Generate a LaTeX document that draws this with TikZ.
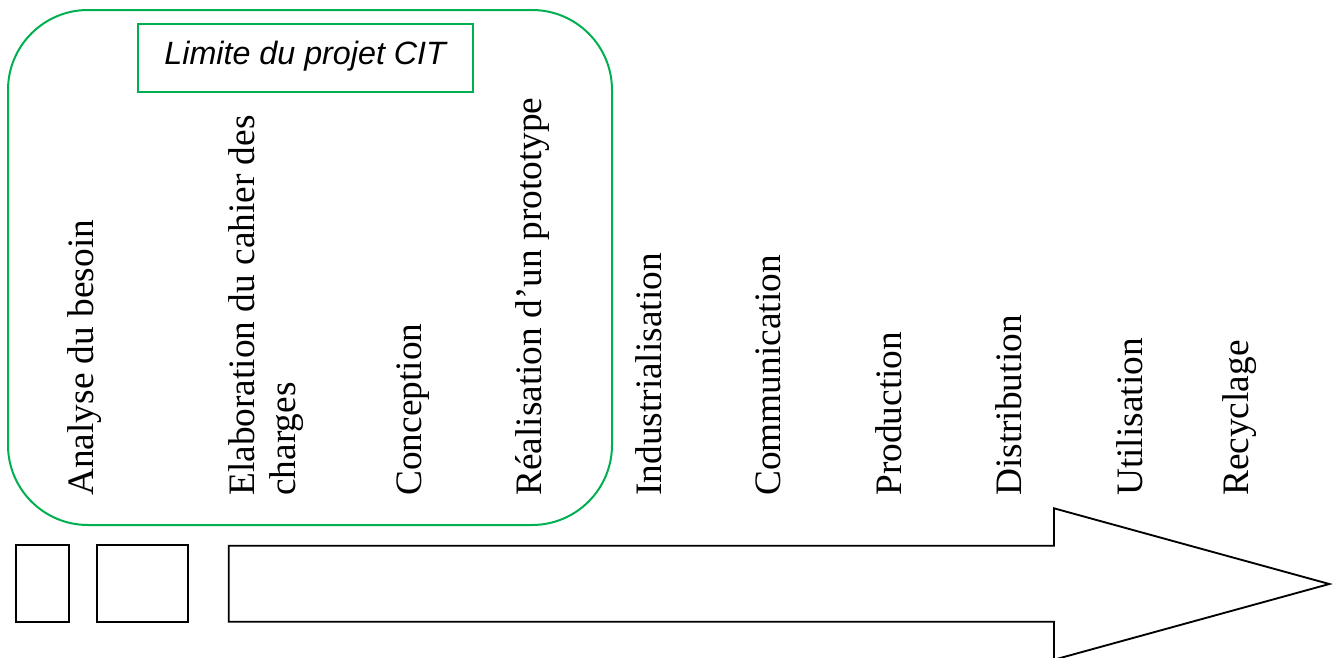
\documentclass[tikz,border=0pt]{standalone}
\usepackage{fontspec}
\setmainfont{Liberation Serif}
\newfontfamily\arialfont{Liberation Sans}
\definecolor{wordgreen}{RGB}{0,176,80}
\begin{document}
\begin{tikzpicture}[x=0.75pt,y=-0.75pt,
  phase/.style={rotate=90,anchor=base west,inner sep=0pt,font=\fontsize{28}{30.75}\selectfont,align=left},
  greenline/.style={draw=wordgreen,line width=1.5pt},
  blackline/.style={draw=black,line width=1.4pt}]
\useasboundingbox (0,0) rectangle (1338,657);
% project limit
\draw[greenline,rounded corners=60pt] (8,10) rectangle (612,525);
\node[greenline,minimum width=251.25pt,minimum height=51pt,inner sep=0pt,
  font=\arialfont\itshape\fontsize{24.2}{28}\selectfont,text height=16.9pt,text depth=6.9pt]
  (limit) at (305.2,58.3) {Limite du projet CIT};
% phases
\node[phase] (p1) at (93,496) {Analyse du besoin};
\node[phase] (p2) at (295,496) {Elaboration du cahier des\\charges};
\node[phase] (p3) at (421.7,496) {Conception};
\node[phase] (p4) at (541.7,496) {Réalisation d’un prototype};
\node[phase] (p5) at (661.7,496) {Industrialisation};
\node[phase] (p6) at (780.7,496) {Communication};
\node[phase] (p7) at (901.7,496) {Production};
\node[phase] (p8) at (1021.7,496) {Distribution};
\node[phase] (p9) at (1142.7,496) {Utilisation};
\node[phase] (p10) at (1248.3,496) {Recyclage};
% boxes
\draw[blackline] (15.7,545) rectangle (69.3,621.7);
\draw[blackline] (96.7,545) rectangle (188.3,621.7);
% big arrow
\draw[blackline,line join=miter] (228.7,545.7) -- (1054,545.7) -- (1054,508.3) -- (1329.3,584)
  -- (1054,659.7) -- (1054,621.7) -- (228.7,621.7) -- cycle;
\end{tikzpicture}
\end{document}
